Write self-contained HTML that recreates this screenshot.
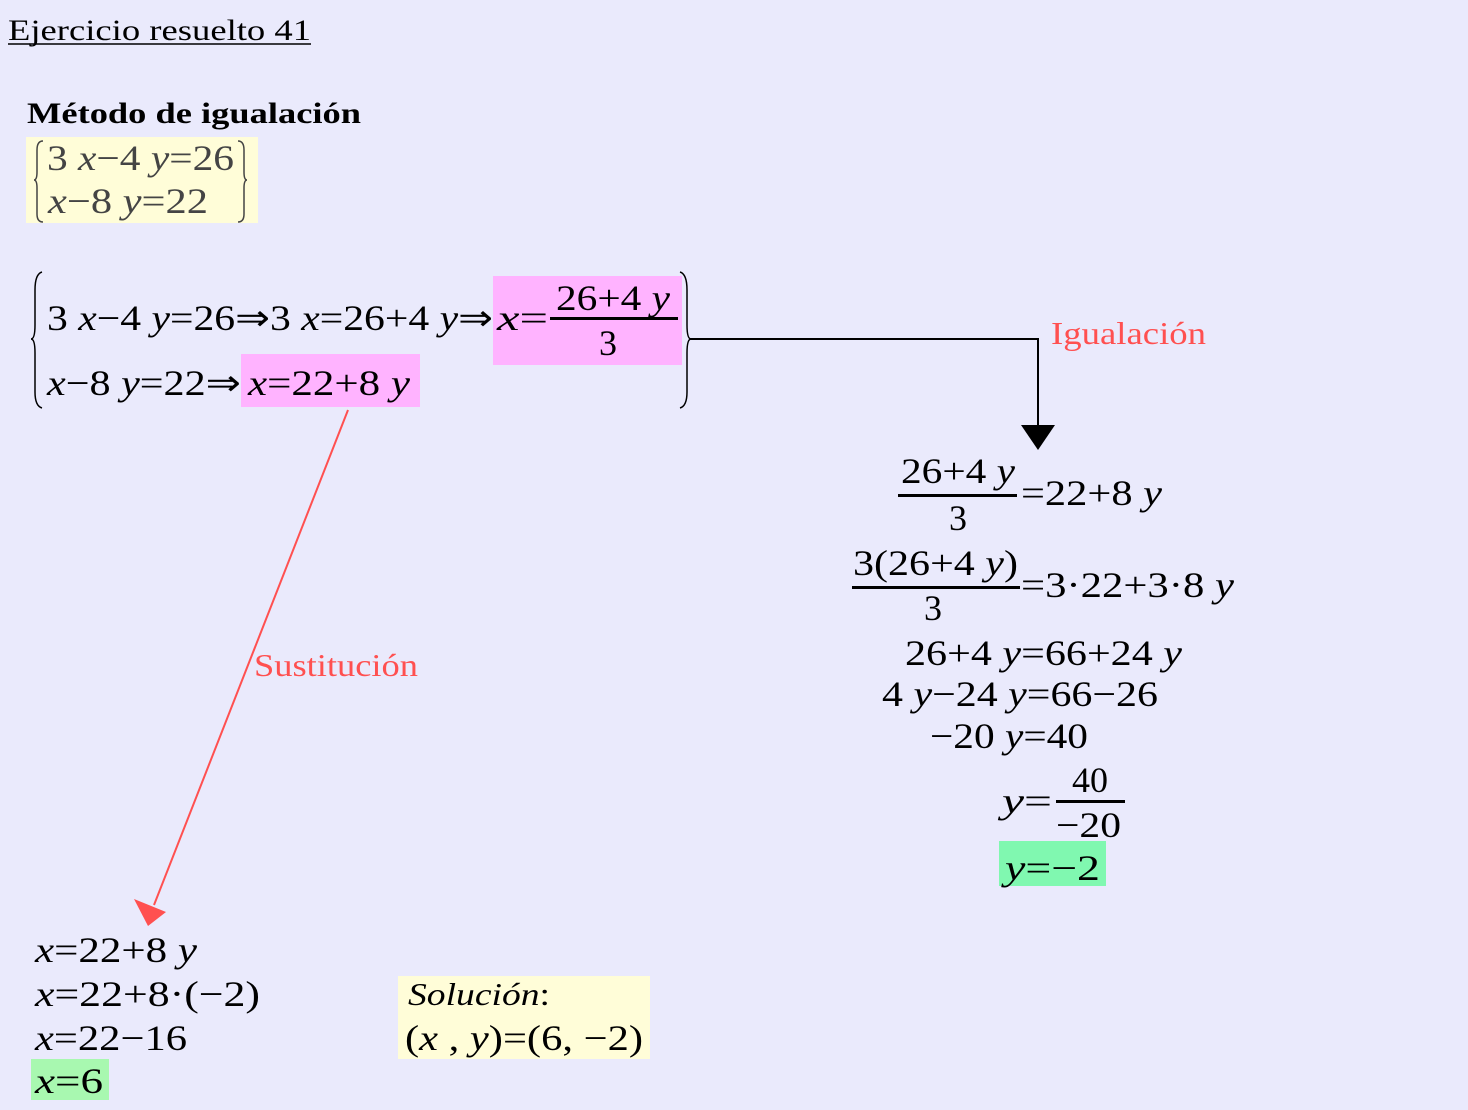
<!DOCTYPE html>
<html><head><meta charset="utf-8"><style>
html,body{margin:0;padding:0;background:#eaeafc;}
svg{display:block;}
text{font-family:"Liberation Serif",serif;fill:#000;}
.m{font-size:36px;}
.i{font-style:italic;}
</style></head><body>
<svg width="1468" height="1110" viewBox="0 0 1468 1110" xmlns="http://www.w3.org/2000/svg">
<rect width="1468" height="1110" fill="#eaeafc"/>
<text x="8" y="40" font-size="30" textLength="303" lengthAdjust="spacingAndGlyphs">Ejercicio resuelto 41</text>
<line x1="8" y1="44" x2="311" y2="44" stroke="#000" stroke-width="1.5"/>
<text x="27" y="123" font-size="30" font-weight="bold" textLength="334" lengthAdjust="spacingAndGlyphs">Método de igualación</text>

<rect x="26" y="137" width="232" height="86" fill="#fffdd8"/>
<path d="M43 141 Q37 141 37 150 L37 172 Q37 180 34 180 Q37 180 37 188 L37 214 Q37 222 43 222" fill="none" stroke="#444" stroke-width="1.5"/>
<path d="M238 141 Q244 141 244 150 L244 172 Q244 180 247 180 Q244 180 244 188 L244 214 Q244 222 238 222" fill="none" stroke="#444" stroke-width="1.5"/>
<text x="47" y="170" class="m" style="fill:#444" font-size="34" textLength="187" lengthAdjust="spacingAndGlyphs">3 <tspan class="i" style="fill:#444">x</tspan>−4 <tspan class="i" style="fill:#444">y</tspan>=26</text>
<text x="48" y="213" class="m" style="fill:#444" font-size="34" textLength="160" lengthAdjust="spacingAndGlyphs"><tspan class="i" style="fill:#444">x</tspan>−8 <tspan class="i" style="fill:#444">y</tspan>=22</text>

<path d="M42 272 Q35 274 35 290 L35 325 Q35 339 31 339 Q35 339 35 353 L35 392 Q35 406 42 408" fill="none" stroke="#000" stroke-width="1.5"/>
<path d="M680 272 Q687 274 687 290 L687 325 Q687 339 691 339 Q687 339 687 353 L687 392 Q687 406 680 408" fill="none" stroke="#000" stroke-width="1.5"/>
<rect x="493" y="276" width="189" height="89" fill="#ffb3ff"/>
<rect x="241" y="354" width="179" height="53" fill="#ffb3ff"/>
<text x="47" y="330" class="m" textLength="446" lengthAdjust="spacingAndGlyphs">3 <tspan class="i">x</tspan>−4 <tspan class="i">y</tspan>=26⇒3 <tspan class="i">x</tspan>=26+4 <tspan class="i">y</tspan>⇒</text>
<text x="497" y="330" class="m" textLength="51" lengthAdjust="spacingAndGlyphs"><tspan class="i">x</tspan>=</text>
<text x="556" y="310" class="m" textLength="114" lengthAdjust="spacingAndGlyphs">26+4 <tspan class="i">y</tspan></text>
<rect x="550" y="317" width="128" height="3"/>
<text x="599" y="355" class="m">3</text>
<text x="47" y="395" class="m" textLength="194" lengthAdjust="spacingAndGlyphs"><tspan class="i">x</tspan>−8 <tspan class="i">y</tspan>=22⇒</text>
<text x="248" y="395" class="m" textLength="162" lengthAdjust="spacingAndGlyphs"><tspan class="i">x</tspan>=22+8 <tspan class="i">y</tspan></text>

<polyline points="690,339 1038,339 1038,428" fill="none" stroke="#000" stroke-width="2"/>
<polygon points="1021,425 1055,425 1038,450" fill="#000"/>
<text x="1051" y="344" font-size="32" style="fill:#ff5050" textLength="155" lengthAdjust="spacingAndGlyphs">Igualación</text>

<line x1="348" y1="410" x2="154" y2="905" stroke="#ff5050" stroke-width="2"/>
<polygon points="134,899 166,912 148,926" fill="#ff5050"/>
<text x="254" y="676" font-size="32" style="fill:#ff5050" textLength="164" lengthAdjust="spacingAndGlyphs">Sustitución</text>

<text x="901" y="483" class="m" textLength="114" lengthAdjust="spacingAndGlyphs">26+4 <tspan class="i">y</tspan></text>
<rect x="898" y="494" width="119" height="3"/>
<text x="949" y="530" class="m">3</text>
<text x="1021" y="505" class="m" textLength="141" lengthAdjust="spacingAndGlyphs">=22+8 <tspan class="i">y</tspan></text>

<text x="853" y="575" class="m" textLength="165" lengthAdjust="spacingAndGlyphs">3(26+4 <tspan class="i">y</tspan>)</text>
<rect x="852" y="586" width="168" height="3"/>
<text x="924" y="620" class="m">3</text>
<text x="1021" y="597" class="m" textLength="213" lengthAdjust="spacingAndGlyphs">=3·22+3·8 <tspan class="i">y</tspan></text>

<text x="905" y="665" class="m" textLength="277" lengthAdjust="spacingAndGlyphs">26+4 <tspan class="i">y</tspan>=66+24 <tspan class="i">y</tspan></text>
<text x="882" y="706" class="m" textLength="276" lengthAdjust="spacingAndGlyphs">4 <tspan class="i">y</tspan>−24 <tspan class="i">y</tspan>=66−26</text>
<text x="930" y="748" class="m" textLength="158" lengthAdjust="spacingAndGlyphs">−20 <tspan class="i">y</tspan>=40</text>

<text x="1002" y="813" class="m" textLength="50" lengthAdjust="spacingAndGlyphs"><tspan class="i">y</tspan>=</text>
<text x="1072" y="792" class="m" textLength="36" lengthAdjust="spacingAndGlyphs">40</text>
<rect x="1056" y="800" width="69" height="3"/>
<text x="1056" y="837" class="m" textLength="65" lengthAdjust="spacingAndGlyphs">−20</text>
<rect x="999" y="841" width="107" height="45" fill="#80f8b0"/>
<text x="1005" y="880" class="m" textLength="95" lengthAdjust="spacingAndGlyphs"><tspan class="i">y</tspan>=−2</text>

<text x="35" y="962" class="m" textLength="162" lengthAdjust="spacingAndGlyphs"><tspan class="i">x</tspan>=22+8 <tspan class="i">y</tspan></text>
<text x="35" y="1006" class="m" textLength="225" lengthAdjust="spacingAndGlyphs"><tspan class="i">x</tspan>=22+8·(−2)</text>
<text x="35" y="1050" class="m" textLength="152" lengthAdjust="spacingAndGlyphs"><tspan class="i">x</tspan>=22−16</text>
<rect x="31" y="1059" width="78" height="41" fill="#a8f8b0"/>
<text x="35" y="1093" class="m" textLength="68" lengthAdjust="spacingAndGlyphs"><tspan class="i">x</tspan>=6</text>

<rect x="398" y="976" width="252" height="83" fill="#fffdd8"/>
<text x="408" y="1005" font-size="32" textLength="142" lengthAdjust="spacingAndGlyphs"><tspan class="i">Solución</tspan>:</text>
<text x="405" y="1050" class="m" textLength="238" lengthAdjust="spacingAndGlyphs">(<tspan class="i">x</tspan> ,  <tspan class="i">y</tspan>)=(6, −2)</text>
</svg>
</body></html>
